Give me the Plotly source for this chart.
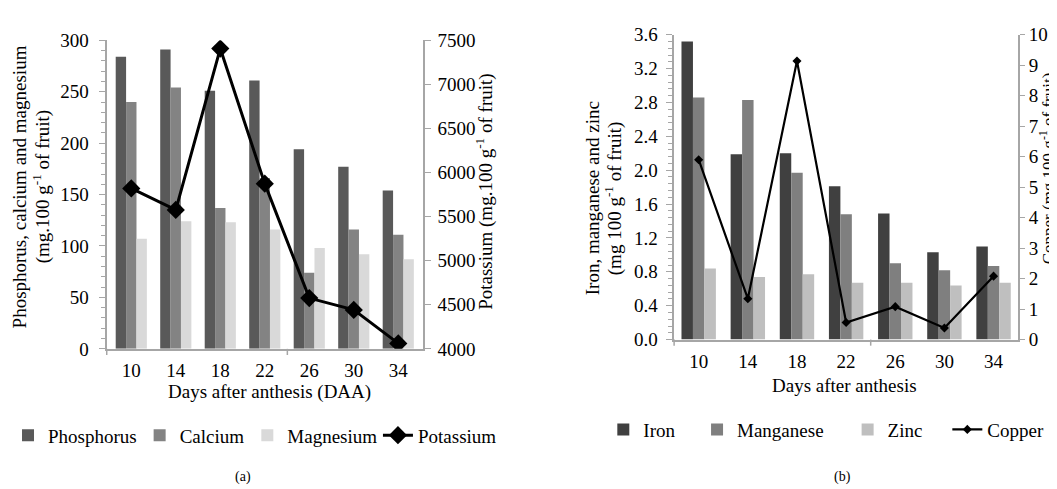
import plotly.graph_objects as go

# ---------------- data ----------------
days = ["10", "14", "18", "22", "26", "30", "34"]

phosphorus = [284, 291, 251, 261, 194, 177, 154]
calcium = [240, 254, 137, 166, 74, 116, 111]
magnesium = [107, 124, 123, 116, 98, 92, 87]
potassium = [5820, 5576, 7406, 5874, 4576, 4442, 4062]

iron = [3.52, 2.19, 2.20, 1.81, 1.49, 1.03, 1.10]
manganese = [2.86, 2.83, 1.97, 1.48, 0.90, 0.82, 0.87]
zinc = [0.84, 0.74, 0.77, 0.67, 0.67, 0.64, 0.67]
copper = [5.9, 1.34, 9.14, 0.56, 1.08, 0.38, 2.08]

W, H = 1057, 489
FONT = "Times New Roman"
AXC = "#a6a6a6"

def px(x):
    return x / W

def py(y):
    return 1 - y / H

fig = go.Figure()

# panel (a)
fig.add_trace(go.Bar(x=days, y=phosphorus, name="Phosphorus", marker_color="#595959",
                     marker_line_width=0, xaxis="x", yaxis="y", legend="legend"))
fig.add_trace(go.Bar(x=days, y=calcium, name="Calcium", marker_color="#838383",
                     marker_line_width=0, xaxis="x", yaxis="y", legend="legend2"))
fig.add_trace(go.Bar(x=days, y=magnesium, name="Magnesium", marker_color="#d9d9d9",
                     marker_line_width=0, xaxis="x", yaxis="y", legend="legend3"))
fig.add_trace(go.Scatter(x=days, y=potassium, name="Potassium", mode="lines+markers",
                         line=dict(color="black", width=3),
                         marker=dict(symbol="diamond", size=14, color="black"),
                         xaxis="x", yaxis="y2", legend="legend4"))

# panel (b)
fig.add_trace(go.Bar(x=days, y=iron, name="Iron", marker_color="#404040",
                     marker_line_width=0, xaxis="x2", yaxis="y3", legend="legend5"))
fig.add_trace(go.Bar(x=days, y=manganese, name="Manganese", marker_color="#7f7f7f",
                     marker_line_width=0, xaxis="x2", yaxis="y3", legend="legend6"))
fig.add_trace(go.Bar(x=days, y=zinc, name="Zinc", marker_color="#bfbfbf",
                     marker_line_width=0, xaxis="x2", yaxis="y3", legend="legend7"))
fig.add_trace(go.Scatter(x=days, y=copper, name="Copper", mode="lines+markers",
                         line=dict(color="black", width=2.2),
                         marker=dict(symbol="diamond", size=7, color="black"),
                         xaxis="x2", yaxis="y4", legend="legend8"))

tickfont = dict(family=FONT, size=19, color="black")

xa_common = dict(type="category", showline=True, linecolor=AXC, linewidth=1.5,
                 ticks="", tickfont=tickfont, ticklabelstandoff=4, showgrid=False,
                 zeroline=False, fixedrange=True)

def ya(**kw):
    d = dict(showline=True, linecolor=AXC, linewidth=1.5, ticks="outside",
             ticklen=6, tickcolor=AXC, tickfont=tickfont, showgrid=False,
             zeroline=False)
    d.update(kw)
    return d

layout = dict(
    width=W, height=H,
    margin=dict(l=0, r=0, t=0, b=0),
    paper_bgcolor="white", plot_bgcolor="white",
    barmode="group", bargap=0.3, bargroupgap=0,
    showlegend=True,
    font=dict(family=FONT, size=18, color="black"),
    xaxis=dict(domain=[px(96), px(413)], anchor="y", **xa_common),
    yaxis=ya(domain=[py(345.7), py(23.3)], range=[0, 300], dtick=50, anchor="x",
             ticksuffix="\u2004",
             minor=dict(dtick=10, ticks="outside", ticklen=4, tickcolor=AXC)),
    yaxis2=ya(domain=[py(345.7), py(23.3)], range=[4000, 7500], dtick=500,
              tickprefix="\u2006", overlaying="y", side="right", anchor="x"),
    xaxis2=dict(domain=[px(665), px(1010)], anchor="y3", **xa_common),
    yaxis3=ya(domain=[py(336), py(17.5)], range=[0, 3.6], dtick=0.4, tickformat=".1f",
              ticksuffix="\u2005", anchor="x2",
              minor=dict(dtick=0.08, ticks="outside", ticklen=4, tickcolor=AXC)),
    yaxis4=ya(domain=[py(336), py(17.5)], range=[0, 10], dtick=1, ticklen=5,
              overlaying="y3", side="right", anchor="x2"),
)

# individual legend entries positioned like the original
leg_font = dict(family=FONT, size=19, color="black")
leg_pos = {
    "legend": (47, 436), "legend2": (179, 436), "legend3": (287, 436), "legend4": (418, 436),
    "legend5": (644, 430), "legend6": (738, 430), "legend7": (889, 430), "legend8": (989, 430),
}
for key, (tx, ty) in leg_pos.items():
    layout[key] = dict(x=px(tx - 50), y=py(ty), xanchor="left", yanchor="middle",
                       orientation="h", bgcolor="rgba(0,0,0,0)", font=leg_font,
                       itemwidth=30, borderwidth=0, visible=True)

fig.update_layout(**layout)

# axis titles and captions
ann = [
    dict(text="Phosphorus, calcium and magnesium", x=8, y=176, textangle=-90, size=19),
    dict(text="(mg.100 g<sup>-1</sup> of fruit)", x=31, y=176, textangle=-90, size=19),
    dict(text="Potassium (mg.100 g<sup>-1</sup> of fruit)", x=475, y=182, textangle=-90, size=19),
    dict(text="Days after anthesis (DAA)", x=259, y=391, textangle=0, size=19),
    dict(text="Iron, manganese and zinc", x=584, y=188, textangle=-90, size=19),
    dict(text="(mg 100 g<sup>-1</sup> of fruit)", x=605, y=188, textangle=-90, size=19),
    dict(text="Copper (mg 100 g<sup>-1</sup> of fruit)", x=1039, y=157, textangle=-90, size=17),
    dict(text="Days after anthesis", x=836, y=384, textangle=0, size=19),
    dict(text="(a)", x=233, y=480, textangle=0, size=14),
    dict(text="(b)", x=834, y=480, textangle=0, size=14),
]
for a in ann:
    fig.add_annotation(text=a["text"], x=px(a["x"]), y=py(a["y"]), xref="paper", yref="paper",
                       showarrow=False, textangle=a["textangle"],
                       font=dict(family=FONT, size=a["size"], color="black"),
                       xanchor="center", yanchor="middle")

# category-axis tick marks (every 4 categories, at boundaries)
for xr, yr in (("x domain", "y domain"), ("x2 domain", "y3 domain")):
    for fx in (0, 4 / 7):
        fig.add_shape(type="line", xref=xr, yref=yr, x0=fx, x1=fx, y0=0, y1=-0.02,
                      line=dict(color=AXC, width=1.5))

fig.write_html("out.html")
